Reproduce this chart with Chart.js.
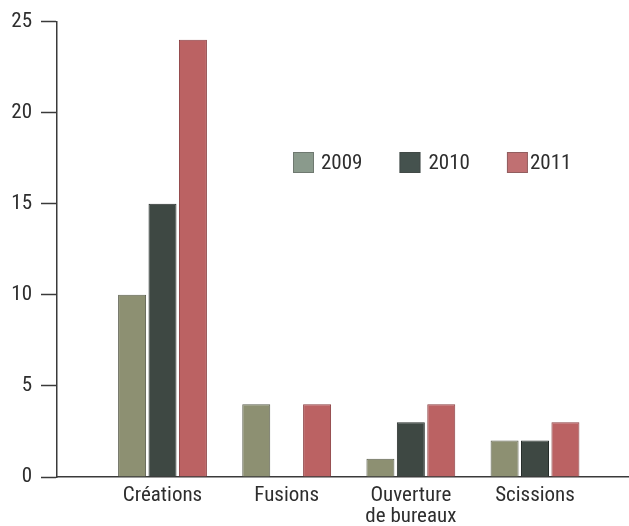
<!DOCTYPE html>
<html>
<head>
<meta charset="utf-8">
<script src="https://cdn.jsdelivr.net/npm/chart.js@4.4.1/dist/chart.umd.min.js"></script>
<style>
  html, body { margin: 0; padding: 0; background: #ffffff; }
  #wrap { position: relative; width: 629px; height: 526px; }
  canvas { display: block; }
</style>
</head>
<body>
<div id="wrap"><canvas id="c" width="629" height="526"></canvas></div>
<script>
// ---- Data ----
const categories = ['Créations', 'Fusions', ['Ouverture', 'de bureaux'], 'Scissions'];
const seriesNames = ['2009', '2010', '2011'];
const values2009 = [10, 4, 1, 2];
const values2010 = [15, 0, 3, 2];
const values2011 = [24, 4, 4, 3];
const yTickValues = [0, 5, 10, 15, 20, 25];

const FONT = "'Roboto Condensed', 'DejaVu Sans Condensed', sans-serif";
const TEXT = '#2e2e2e';
const AXIS = '#3a3a3a';

const fills = ['#8d9072', '#3e4843', '#bb6263'];
const borders = ['#5d6050', '#262d2a', '#8a3e40'];
const legendFills = ['#8a9a8c', '#45524e', '#c07072'];

const seriesValues = [values2009, values2010, values2011];

const datasets = seriesNames.map((name, s) => ({
  label: name,
  data: seriesValues[s].map((v, i) => ({ x: i, y: v })),
  backgroundColor: fills[s],
  borderColor: borders[s],
  borderWidth: 1,
  categoryPercentage: 0.735,
  barPercentage: 0.92
}));

const floatingLegend = {
  id: 'floatingLegend',
  afterDraw(chart, args, opts) {
    const ctx = chart.ctx;
    ctx.save();
    ctx.font = '21px ' + FONT;
    ctx.textBaseline = 'middle';
    ctx.textAlign = 'left';
    let x = opts.x;
    const y = opts.y;
    chart.data.datasets.forEach((ds, i) => {
      ctx.fillStyle = legendFills[i];
      ctx.fillRect(x, y, opts.box, opts.box);
      ctx.strokeStyle = 'rgba(60,60,60,0.35)';
      ctx.lineWidth = 1;
      ctx.strokeRect(x + 0.5, y + 0.5, opts.box - 1, opts.box - 1);
      ctx.fillStyle = TEXT;
      const tx = x + opts.box + opts.gap[i];
      ctx.fillText(ds.label, tx, y + opts.box / 2 + 1);
      x = tx + ctx.measureText(ds.label).width + opts.spacing;
    });
    ctx.restore();
  }
};

new Chart(document.getElementById('c'), {
  type: 'bar',
  data: { datasets },
  plugins: [floatingLegend],
  options: {
    responsive: false,
    animation: false,
    devicePixelRatio: 1,
    layout: { padding: { top: 16, right: 0, bottom: 0, left: 0 } },
    plugins: {
      legend: { display: false },
      tooltip: { enabled: false },
      floatingLegend: { x: 293, y: 152, box: 21, gap: [7, 8, 2], spacing: 37 }
    },
    scales: {
      x: {
        type: 'linear',
        offset: false,
        bounds: 'data',
        min: -0.8497,
        max: 3.757,
        afterBuildTicks: (scale) => {
          scale.ticks = categories.map((_, i) => ({ value: i }));
        },
        afterFit: (scale) => { scale.height = 49; },
        grid: { display: false, offset: false, drawTicks: false, tickLength: 0 },
        border: { display: true, color: AXIS, width: 1.5 },
        ticks: {
          autoSkip: false,
          maxRotation: 0,
          padding: 8,
          color: TEXT,
          font: { family: FONT, size: 21, lineHeight: 1.0 },
          callback: (v) => categories[v]
        }
      },
      y: {
        min: 0,
        max: 25,
        afterBuildTicks: (scale) => {
          scale.ticks = yTickValues.map(v => ({ value: v }));
        },
        afterFit: (scale) => { scale.width = 57; },
        grid: {
          drawOnChartArea: false,
          drawTicks: true,
          tickLength: 16,
          tickColor: AXIS,
          tickWidth: 1.5
        },
        border: { display: true, color: AXIS, width: 1.5 },
        ticks: {
          padding: 9,
          color: TEXT,
          font: { family: FONT, size: 21 }
        }
      }
    }
  }
});
</script>
</body>
</html>
